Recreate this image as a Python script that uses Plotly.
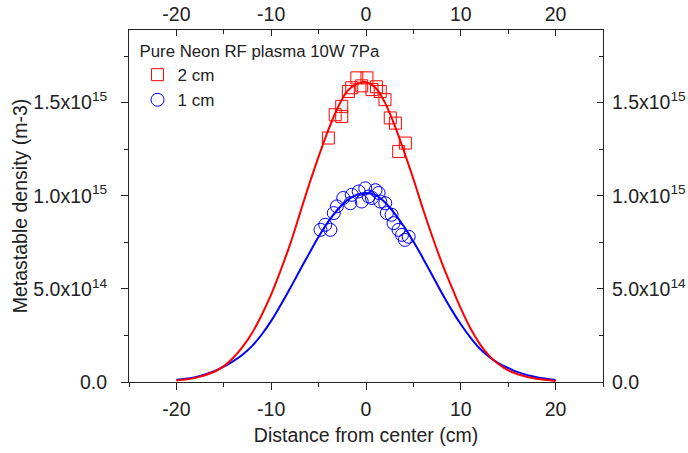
import plotly.graph_objects as go

# ---- data (density values in units of 1e15 m^-3) ----
fit_x = [-20, -18, -16, -15, -14, -13, -12, -11, -10, -9, -8, -7, -6, -5, -4, -3, -2, -1, 0,
         1, 2, 3, 4, 5, 6, 7, 8, 9, 10, 11, 12, 13, 14, 15, 16, 18, 20]
fit_2cm = [0.008, 0.022, 0.055, 0.085, 0.13, 0.19, 0.265, 0.36, 0.47, 0.60, 0.74, 0.90, 1.06,
           1.21, 1.35, 1.47, 1.56, 1.60, 1.61, 1.58, 1.50, 1.38, 1.24, 1.09, 0.93, 0.78, 0.64,
           0.515, 0.395, 0.29, 0.205, 0.14, 0.095, 0.062, 0.042, 0.017, 0.006]
fit_1cm = [0.012, 0.026, 0.058, 0.082, 0.112, 0.148, 0.194, 0.255, 0.328, 0.413, 0.503, 0.597,
           0.69, 0.78, 0.86, 0.925, 0.975, 1.005, 1.015, 1.005, 0.965, 0.905, 0.835, 0.755,
           0.665, 0.572, 0.478, 0.39, 0.31, 0.24, 0.18, 0.135, 0.10, 0.075, 0.053, 0.025,
           0.011]

meas_x_2cm = [-3.97, -3.25, -2.56, -2.56, -1.86, -1.5, -0.97, -0.45, 0.1, 0.63, 1.1, 1.5,
              2.0, 2.56, 3.1, 3.45, 4.15]
meas_y_2cm = [1.31, 1.435, 1.426, 1.48, 1.56, 1.58, 1.633, 1.59, 1.633, 1.57, 1.585, 1.56,
              1.516, 1.418, 1.39, 1.238, 1.283]

meas_x_1cm = [-4.8, -4.3, -3.76, -3.4, -3.07, -2.4, -1.65, -1.5, -0.77, -0.45, -0.08, 0.28,
              0.63, 1.0, 1.33, 1.5, 2.03, 2.2, 2.7, 2.9, 3.43, 3.8, 4.1, 4.5]
meas_y_1cm = [0.817, 0.844, 0.817, 0.907, 0.943, 0.988, 0.96, 1.005, 1.023, 0.969, 1.04,
              0.996, 0.988, 1.03, 1.015, 0.969, 0.96, 0.907, 0.898, 0.853, 0.817, 0.79,
              0.763, 0.78]

x_ticks = [-20, -10, 0, 10, 20]
x_ticktext = ["-20", "-10", "0", "10", "20"]
y_ticks = [0.0, 0.5, 1.0, 1.5]
y_ticktext = ["0.0", "5.0x10<sup>14</sup>", "1.0x10<sup>15</sup>", "1.5x10<sup>15</sup>"]

SCALE = 1e15
RED = "#ff0000"
BLUE = "#0000ff"
FONT = "Liberation Sans, Arial, sans-serif"
AX = "#222222"

fig = go.Figure()
fig.add_trace(go.Scatter(x=fit_x, y=[v * SCALE for v in fit_1cm], mode="lines",
                         line=dict(color=BLUE, width=2, shape="spline"), showlegend=False))
fig.add_trace(go.Scatter(x=fit_x, y=[v * SCALE for v in fit_2cm], mode="lines",
                         line=dict(color=RED, width=2, shape="spline"), showlegend=False))
fig.add_trace(go.Scatter(x=meas_x_2cm, y=[v * SCALE for v in meas_y_2cm], mode="markers",
                         name="2 cm",
                         marker=dict(symbol="square-open", size=12, color=RED,
                                     line=dict(width=1, color=RED))))
fig.add_trace(go.Scatter(x=meas_x_1cm, y=[v * SCALE for v in meas_y_1cm], mode="markers",
                         name="1 cm",
                         marker=dict(symbol="circle-open", size=13, color=BLUE,
                                     line=dict(width=1, color=BLUE))))
# invisible trace to anchor the mirrored top/right axes
fig.add_trace(go.Scatter(x=[0], y=[0], xaxis="x2", yaxis="y2", mode="markers",
                         marker=dict(opacity=0), showlegend=False, hoverinfo="skip"))

yr = [0, 1.89 * SCALE]
tickfont = dict(family=FONT, size=19.5, color=AX)
titlefont = dict(family=FONT, size=19.5, color=AX)

fig.update_layout(
    width=688, height=453,
    margin=dict(l=129, r=85, t=30, b=71, autoexpand=False),
    paper_bgcolor="white", plot_bgcolor="white",
    font=dict(family=FONT, size=17, color=AX),
    showlegend=True,
    legend=dict(x=0.018, y=0.985, xanchor="left", yanchor="top",
                bgcolor="rgba(0,0,0,0)",
                title=dict(text="Pure Neon RF plasma 10W 7Pa", font=dict(size=16.8, family=FONT)),
                font=dict(size=17, family=FONT), tracegroupgap=0),
    xaxis=dict(range=[-25, 25], tickvals=x_ticks, ticktext=x_ticktext, ticks="outside",
               ticklen=7, tickwidth=1,
               tickcolor=AX, showline=True, linecolor=AX, linewidth=1, showgrid=False,
               zeroline=False, tickfont=tickfont, automargin=False, ticklabelstandoff=3,
               minor=dict(dtick=5, tick0=-25, ticks="outside", ticklen=4, tickcolor=AX),
               title=dict(text="Distance from center (cm)", font=titlefont, standoff=8)),
    xaxis2=dict(range=[-25, 25], overlaying="x", side="top", tickvals=x_ticks,
                ticktext=x_ticktext,
                ticks="inside", ticklen=6, tickwidth=1, tickcolor=AX, showline=True,
                linecolor=AX, linewidth=1, showgrid=False, zeroline=False, tickfont=tickfont,
                automargin=False, ticklabelstandoff=0,
                minor=dict(dtick=5, tick0=-25, ticks="inside", ticklen=4, tickcolor=AX),
                anchor="y"),
    yaxis=dict(range=yr, tickvals=[v * SCALE for v in y_ticks], ticktext=y_ticktext,
               ticks="outside", ticklen=7, tickwidth=1, tickcolor=AX, showline=True,
               linecolor=AX, linewidth=1, showgrid=False, zeroline=False, tickfont=tickfont,
               automargin=False, ticklabelstandoff=10,
               minor=dict(dtick=0.25 * SCALE, tick0=0, ticks="outside", ticklen=4,
                          tickcolor=AX),
               title=dict(text="Metastable density (m-3)", font=titlefont, standoff=0)),
    yaxis2=dict(range=yr, overlaying="y", side="right", tickvals=[v * SCALE for v in y_ticks],
                ticktext=y_ticktext, ticks="inside", ticklen=6, tickwidth=1, tickcolor=AX,
                showline=True, linecolor=AX, linewidth=1, showgrid=False, zeroline=False,
                tickfont=tickfont, anchor="x", automargin=False, ticklabelstandoff=4,
                minor=dict(dtick=0.25 * SCALE, tick0=0, ticks="inside", ticklen=4,
                           tickcolor=AX)),
)

fig.write_html("out.html", config={"displayModeBar": False},
               post_script="document.body.style.margin='0';")
